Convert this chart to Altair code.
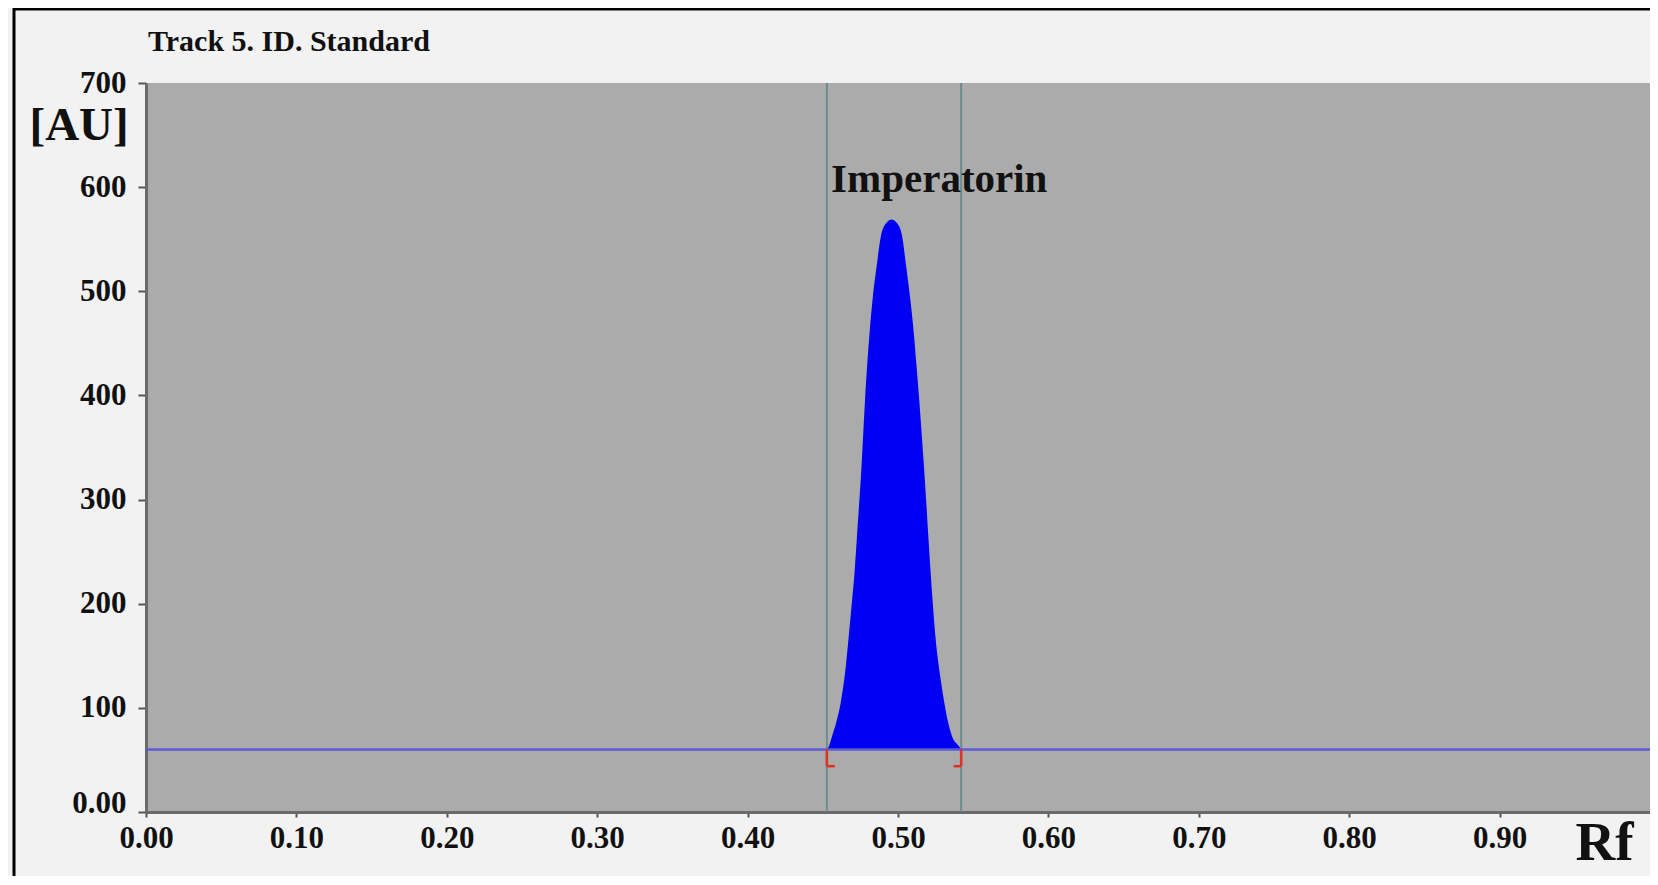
import altair as alt
import pandas as pd

# ---- data ----
peak_rf = [0.4527, 0.4540, 0.4560, 0.4593, 0.4619, 0.4650, 0.4672, 0.4693, 0.4712, 0.4727,
           0.4742, 0.4756, 0.4769, 0.4781, 0.4794, 0.4811, 0.4831, 0.4857, 0.4891, 0.4925,
           0.4957, 0.4990, 0.5023, 0.5055, 0.5082, 0.5105, 0.5124, 0.5141, 0.5157, 0.5173,
           0.5188, 0.5202, 0.5216, 0.5231, 0.5249, 0.5275, 0.5308, 0.5330, 0.5361, 0.5400,
           0.5420]
peak_au = [60, 63, 72, 88, 105, 136, 168, 201, 232, 264,
           297, 328, 364, 396, 427, 460, 492, 523, 556, 566,
           569, 566, 556, 523, 492, 460, 427, 396, 364, 331,
           297, 264, 232, 201, 168, 136, 105, 88, 72, 64,
           60]
baseline_au = 60
baseline_rf = [0.0, 1.0]
boundary_rf = [0.4527, 0.5420]
bracket_low_au = 44
bracket_hook_rf = [0.4580, 0.5370]
label_text = ["Imperatorin"]
label_rf = [0.4555]
label_au = [595]
x_ticks = [0.0, 0.1, 0.2, 0.3, 0.4, 0.5, 0.6, 0.7, 0.8, 0.9]
y_ticks = [0, 100, 200, 300, 400, 500, 600, 700]

W, H = 1504, 729
SERIF = "Liberation Serif"

peak_df = pd.DataFrame({"rf": peak_rf, "au": peak_au, "base": [baseline_au] * len(peak_rf)})
base_df = pd.DataFrame({"rf": baseline_rf, "au": [baseline_au] * len(baseline_rf)})
bound_df = pd.DataFrame({"rf": boundary_rf, "hook": bracket_hook_rf,
                         "top": [baseline_au] * 2, "low": [bracket_low_au] * 2})
label_df = pd.DataFrame({"rf": label_rf, "au": label_au, "txt": label_text})

xscale = alt.Scale(domain=[0, 1.0], nice=False, zero=False)
yscale = alt.Scale(domain=[0, 700], nice=False)
xaxis = alt.Axis(values=x_ticks, format=".2f", title="Rf", titleX=1429, titleY=47,
                 titleAlign="left", titleBaseline="alphabetic", titleFontSize=55,
                 tickSize=5, labelPadding=6, labelFlush=False, labelOverlap=False)
yaxis = alt.Axis(values=y_ticks, labelExpr="datum.value == 0 ? '0.00' : datum.label",
                 labelBaseline={"condition": {"test": "datum.value == 0", "value": "alphabetic"},
                                "value": "middle"},
                 title="[AU]", titleAngle=0, titleX=-117, titleY=56, titleAlign="left",
                 titleBaseline="alphabetic", titleFontSize=47,
                 tickSize=8, labelPadding=12, labelFlush=False, labelOverlap=False)


def X(f):
    return alt.X(f, type="quantitative", scale=xscale, axis=xaxis)


def Y(f):
    return alt.Y(f, type="quantitative", scale=yscale, axis=yaxis)


bounds = alt.Chart(bound_df).mark_rule(color="#6b8c8c", strokeWidth=2).encode(x=X("rf"))

area = alt.Chart(peak_df).mark_area(color="#0000f2", opacity=1, interpolate="monotone").encode(
    x=X("rf"), y=Y("au"), y2="base")

base = alt.Chart(base_df).mark_line(color="#5c5cd6", strokeWidth=2.5).encode(x=X("rf"), y=Y("au"))

br_v = alt.Chart(bound_df).mark_rule(color="#e03020", strokeWidth=2.5).encode(
    x=X("rf"), y=Y("top"), y2="low")
br_h = alt.Chart(bound_df).mark_rule(color="#e03020", strokeWidth=2.5).encode(
    x=X("rf"), x2="hook", y=Y("low"))

label = alt.Chart(label_df).mark_text(font=SERIF, fontSize=41, fontWeight="bold", color="#111111",
                                      align="left", baseline="alphabetic").encode(
    x=X("rf"), y=Y("au"), text="txt")

border = alt.Chart(pd.DataFrame({"k": [0]})).mark_rect(filled=False, stroke="#000000", strokeWidth=3).encode(
    x=alt.value(-132), x2=alt.value(W + 40), y=alt.value(-74), y2=alt.value(H + 90))

chart = alt.layer(bounds, area, base, br_v, br_h, label, border).properties(
    width=W, height=H,
    background="#f2f2f2",
    autosize=alt.AutoSizeParams(type="none"),
    padding={"left": 138, "top": 75, "right": 0, "bottom": 64},
    title=alt.TitleParams("Track 5. ID. Standard", anchor="start", frame="group", font=SERIF,
                          fontSize=30, fontWeight="bold", color="#111111", baseline="alphabetic",
                          offset=0, dx=2, dy=73),
).configure_view(fill="#ababab", strokeWidth=0).configure_axis(
    grid=False, domainColor="#6a6a6a", domainWidth=3, tickColor="#555555", tickWidth=2,
    labelFont=SERIF, labelFontWeight="bold", labelFontSize=31, labelColor="#111111",
    titleFont=SERIF, titleFontWeight="bold", titleColor="#111111")

chart.save("out.html", embed_options={"renderer": "svg", "actions": False})
